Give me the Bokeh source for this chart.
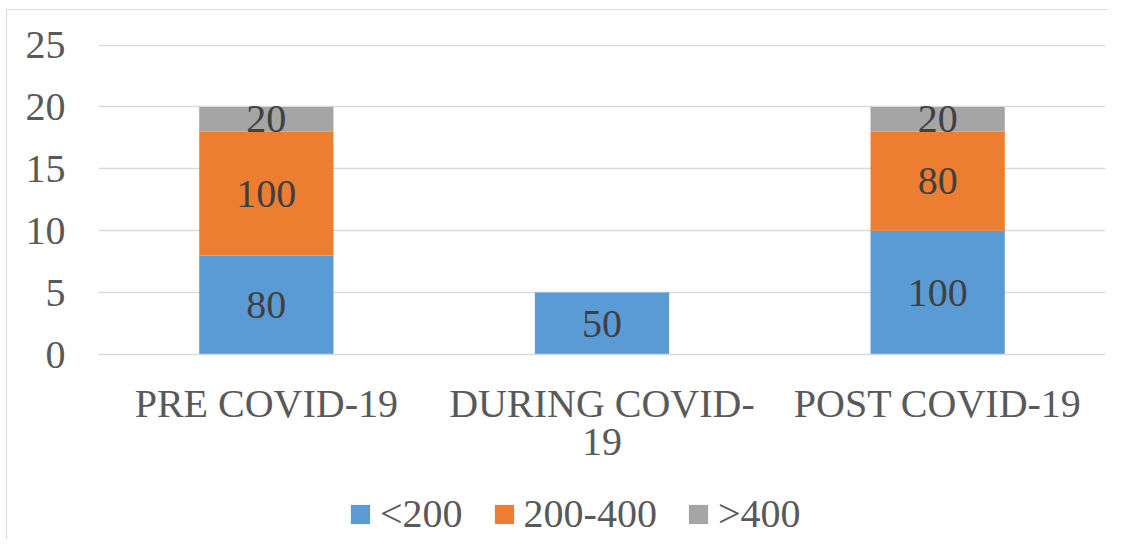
import numpy as np
from bokeh.plotting import figure
from bokeh.layouts import column
from bokeh.models import ColumnDataSource, Range1d, FixedTicker, Legend, LegendItem
from bokeh.core.properties import value
from bokeh.embed import file_html
from bokeh.resources import INLINE

categories = ["PRE COVID-19", "DURING COVID-19", "POST COVID-19"]
# category tick labels as wrapped in the chart (first line / second line)
tick_line1 = ["PRE COVID-19", "DURING COVID-", "POST COVID-19"]
tick_line2 = ["", "19", ""]
series_names = ["<200", "200-400", ">400"]
lt200 = [8, 5, 10]
mid200_400 = [10, 0, 8]
gt400 = [2, 0, 2]
lt200_labels = ["80", "50", "100"]
mid_labels = ["100", "", "80"]
gt400_labels = ["20", "", "20"]
y_ticks = [0, 5, 10, 15, 20, 25]
colors = ["#5b9bd5", "#ed7d31", "#a5a5a5"]

FONT = "Liberation Serif"
FS = "40px"

xpos = np.arange(len(categories))
source = ColumnDataSource(dict(x=xpos, a=lt200, b=mid200_400, c=gt400))

p = figure(width=1101, height=469, x_range=Range1d(-0.5, len(categories) - 0.5),
           y_range=Range1d(0, 25.05),
           output_backend="svg", toolbar_location=None,
           min_border_left=91, min_border_right=3, min_border_top=34, min_border_bottom=125)
p.outline_line_color = None

renderers = p.vbar_stack(["a", "b", "c"], x="x", width=0.4, color=colors, line_color=None,
                         source=source)

# data labels
vals = np.array([lt200, mid200_400, gt400], dtype=float)
labs = [lt200_labels, mid_labels, gt400_labels]
cum = np.cumsum(vals, axis=0)
lx, ly, lt = [], [], []
for i in range(3):
    for j in range(len(categories)):
        if vals[i, j] > 0:
            lx.append(xpos[j])
            ly.append(cum[i, j] - vals[i, j] / 2)
            lt.append(labs[i][j])
p.text(x=lx, y=ly, text=lt, text_align="center", text_baseline="middle",
       text_font=value(FONT), text_font_size=FS, text_color="#404040")

# axes
p.yaxis.ticker = FixedTicker(ticks=y_ticks)
p.yaxis.axis_line_color = None
p.yaxis.major_tick_line_color = None
p.yaxis.minor_tick_line_color = None
p.yaxis.major_label_text_font = FONT
p.yaxis.major_label_text_font_size = FS
p.yaxis.major_label_text_color = "#595959"
p.yaxis.major_label_standoff = 27

p.xaxis.ticker = FixedTicker(ticks=list(xpos))
p.xaxis.major_label_overrides = {int(i): t for i, t in zip(xpos, tick_line1)}
p.xaxis.axis_line_color = "#d9d9d9"
p.xaxis.axis_line_width = 1.5
p.xaxis.major_tick_line_color = None
p.xaxis.minor_tick_line_color = None
p.xaxis.major_label_text_font = FONT
p.xaxis.major_label_text_font_size = FS
p.xaxis.major_label_text_color = "#595959"
p.xaxis.major_label_standoff = 20
# wrapped second line of the middle category label (middle category sits at axis centre)
p.xaxis.axis_label = tick_line2[1]
p.xaxis.axis_label_text_font = FONT
p.xaxis.axis_label_text_font_size = FS
p.xaxis.axis_label_text_font_style = "normal"
p.xaxis.axis_label_text_color = "#595959"
p.xaxis.axis_label_standoff = 0

p.xgrid.grid_line_color = None
p.ygrid.grid_line_color = "#d9d9d9"
p.ygrid.grid_line_width = 1.5

# legend strip below the chart
p2 = figure(width=1101, height=60, x_range=Range1d(0, 1), y_range=Range1d(0, 1),
            output_backend="svg", toolbar_location=None,
            x_axis_location=None, y_axis_location=None,
            min_border=0, min_border_left=0, min_border_right=0, min_border_top=0, min_border_bottom=0)
p2.grid.visible = False
p2.outline_line_color = None
leg_src = ColumnDataSource(dict(x=[np.nan], top=[np.nan]))
leg_renderers = [p2.vbar(x="x", top="top", width=0.1, color=c, line_color=None, source=leg_src)
                 for c in colors]
legend = Legend(items=[LegendItem(label=n, renderers=[r]) for n, r in zip(series_names, leg_renderers)],
                orientation="horizontal", location=(250, 2),
                label_text_font=FONT, label_text_font_size=FS, label_text_color="#595959",
                glyph_width=24, glyph_height=24, label_standoff=8, spacing=29,
                padding=0, margin=0, border_line_color=None, background_fill_alpha=0)
p2.add_layout(legend, "center")

layout = column(p, p2, spacing=0)
layout.styles = {"border-top": "1px solid #d9d9d9", "border-left": "1px solid #d9d9d9",
                 "margin-left": "6px", "margin-top": "9px"}

open("out.html", "w").write(file_html(layout, INLINE))
